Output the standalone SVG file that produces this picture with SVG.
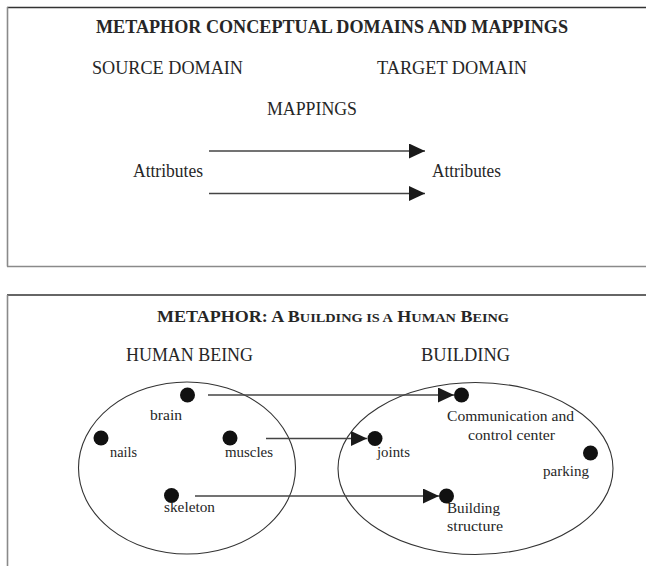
<svg xmlns="http://www.w3.org/2000/svg" width="646" height="566" viewBox="0 0 646 566">
<style>
text{font-family:"Liberation Serif","Times New Roman",serif;fill:#262626;}
.t{font-size:18px;font-weight:bold;}
.h{font-size:18px;}
.l{font-size:15px;}
.sc{font-size:13.5px;}
.frameG{stroke:#8a8a8a;stroke-width:1.6;fill:none;}
.frameD{stroke:#333;stroke-width:1.4;fill:none;}
.arr{stroke:#444;stroke-width:1.5;fill:none;marker-end:url(#ah);}
.ell{stroke:#333;stroke-width:1.1;fill:none;}
.dot{fill:#111;}
</style>
<defs>
<marker id="ah" markerUnits="userSpaceOnUse" markerWidth="17" markerHeight="16" refX="16" refY="7.5" orient="auto">
<path d="M0,0 L16,7.5 L0,15 z" fill="#1a1a1a"/>
</marker>
</defs>

<g id="frame-top">
<line class="frameD" x1="7" y1="7.5" x2="646" y2="7.5"/>
<line class="frameG" x1="7.5" y1="7" x2="7.5" y2="266.5"/>
<line class="frameG" x1="7" y1="266.5" x2="646" y2="266.5"/>
</g>
<g id="frame-bottom">
<line class="frameD" x1="7" y1="295" x2="646" y2="295"/>
<line class="frameG" x1="7.5" y1="295" x2="7.5" y2="566"/>
</g>

<g id="title-top"><text class="t" x="96" y="33" textLength="472" lengthAdjust="spacingAndGlyphs">METAPHOR CONCEPTUAL DOMAINS AND MAPPINGS</text></g>
<g id="source-domain"><text class="h" x="92" y="74" textLength="151" lengthAdjust="spacingAndGlyphs">SOURCE DOMAIN</text></g>
<g id="target-domain"><text class="h" x="377" y="74" textLength="150" lengthAdjust="spacingAndGlyphs">TARGET DOMAIN</text></g>
<g id="mappings"><text class="h" x="267" y="115" textLength="90" lengthAdjust="spacingAndGlyphs">MAPPINGS</text></g>
<g id="attr-source"><text class="h" x="133" y="177" textLength="70" lengthAdjust="spacingAndGlyphs">Attributes</text></g>
<g id="attr-target"><text class="h" x="432" y="177" textLength="69" lengthAdjust="spacingAndGlyphs">Attributes</text></g>

<g id="title-bottom"><text class="t" x="157" y="322" textLength="352" lengthAdjust="spacingAndGlyphs" style="font-size:17px">METAPHOR:  A B<tspan class="sc">UILDING IS A</tspan> H<tspan class="sc">UMAN</tspan> B<tspan class="sc">EING</tspan></text></g>
<g id="human-being">
<text class="h" x="126" y="361" textLength="127" lengthAdjust="spacingAndGlyphs">HUMAN BEING</text>
<ellipse class="ell" cx="187" cy="468" rx="108.5" ry="86"/>
</g>
<g id="building">
<text class="h" x="421" y="361" textLength="89" lengthAdjust="spacingAndGlyphs">BUILDING</text>
<ellipse class="ell" cx="475.5" cy="468.5" rx="137.5" ry="86"/>
</g>

<g id="brain"><circle class="dot" cx="187.5" cy="395" r="7.5"/><text class="l" x="150" y="420" textLength="32" lengthAdjust="spacingAndGlyphs">brain</text></g>
<g id="nails"><circle class="dot" cx="101" cy="438" r="7.5"/><text class="l" x="110" y="457" textLength="27" lengthAdjust="spacingAndGlyphs">nails</text></g>
<g id="muscles"><circle class="dot" cx="230" cy="438" r="7.5"/><text class="l" x="225" y="457" textLength="48" lengthAdjust="spacingAndGlyphs">muscles</text></g>
<g id="skeleton"><circle class="dot" cx="171.5" cy="495.5" r="7.5"/><text class="l" x="164" y="512" textLength="51" lengthAdjust="spacingAndGlyphs">skeleton</text></g>

<g id="comm-center"><circle class="dot" cx="461.5" cy="395" r="7.5"/><text class="l" x="447" y="420.5" textLength="127" lengthAdjust="spacingAndGlyphs">Communication and</text><text class="l" x="468" y="439.5" textLength="87" lengthAdjust="spacingAndGlyphs">control center</text></g>
<g id="joints"><circle class="dot" cx="375" cy="438.5" r="7.5"/><text class="l" x="377" y="457" textLength="33" lengthAdjust="spacingAndGlyphs">joints</text></g>
<g id="parking"><circle class="dot" cx="590.5" cy="453" r="7.5"/><text class="l" x="543" y="476" textLength="46" lengthAdjust="spacingAndGlyphs">parking</text></g>
<g id="building-structure"><circle class="dot" cx="446.5" cy="496" r="7.5"/><text class="l" x="447" y="513" textLength="53" lengthAdjust="spacingAndGlyphs">Building</text><text class="l" x="447" y="531" textLength="56" lengthAdjust="spacingAndGlyphs">structure</text></g>

<g id="connectors">
<line class="arr" x1="209" y1="151" x2="425" y2="151"/>
<line class="arr" x1="209" y1="193.5" x2="425" y2="193.5"/>
<line class="arr" x1="208" y1="395" x2="454" y2="395"/>
<line class="arr" x1="266" y1="438.5" x2="367" y2="438.5"/>
<line class="arr" x1="195" y1="496" x2="439" y2="496"/>
</g>
</svg>
